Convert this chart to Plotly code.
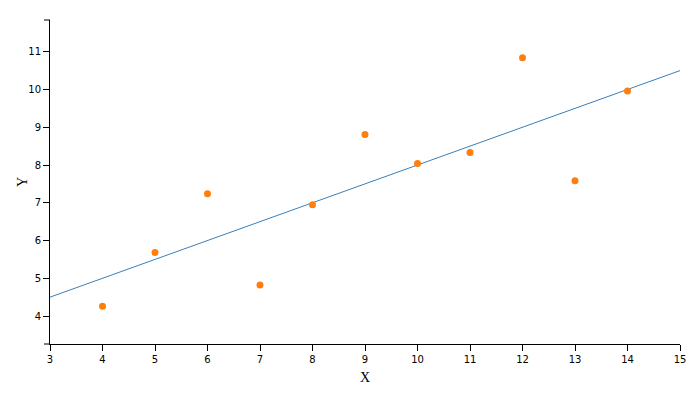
import plotly.graph_objects as go

x_vals = [10, 8, 13, 9, 11, 14, 6, 4, 12, 7, 5]
y_vals = [8.04, 6.95, 7.58, 8.81, 8.33, 9.96, 7.24, 4.26, 10.84, 4.82, 5.68]
line_x = [3, 15]
intercept = 3.0
slope = 0.5
line_y = [intercept + slope * v for v in line_x]

x_range = [min(x_vals) - 1, max(x_vals) + 1]
y_range = [min(y_vals) - 1, max(y_vals) + 1]

fig = go.Figure()
fig.add_trace(go.Scatter(x=line_x, y=line_y, mode="lines",
                         line=dict(color="#3a7fb8", width=1), hoverinfo="skip"))
fig.add_trace(go.Scatter(x=x_vals, y=y_vals, mode="markers",
                         marker=dict(color="#ff7f0e", size=7, line=dict(width=0))))

W, H = 700, 394
ml, mr, mt, mb = 50, 20, 20, 50
pw = W - ml - mr
ph = H - mt - mb

axis_common = dict(showgrid=False, zeroline=False, showline=True, linecolor="#000",
                   linewidth=1, ticks="outside", ticklen=6, tickcolor="#000", tickwidth=1,
                   automargin=False,
                   tickfont=dict(family="DejaVu Sans", size=10, color="#000"))

fig.update_layout(
    width=W, height=H,
    margin=dict(l=ml, r=mr, t=mt, b=mb),
    plot_bgcolor="white", paper_bgcolor="white",
    showlegend=False,
    xaxis=dict(range=x_range, tickmode="linear", tick0=3, dtick=1,
               title=dict(text="X", font=dict(family="Liberation Serif", size=14, color="#000"), standoff=8),
               **axis_common),
    yaxis=dict(range=y_range, tickmode="linear", tick0=4, dtick=1, **axis_common),
)

fig.add_annotation(text="Y", xref="paper", yref="paper", x=-28 / pw, y=0.5,
                   xanchor="center", yanchor="middle", showarrow=False, textangle=-90,
                   font=dict(family="Liberation Serif", size=14, color="#000"))

# outer ticks of the y axis at both ends
for yp in [0, 1]:
    fig.add_shape(type="line", xref="paper", yref="paper",
                  x0=-6 / pw, x1=0, y0=yp, y1=yp,
                  line=dict(color="#000", width=1))

fig.write_html("out.html")
